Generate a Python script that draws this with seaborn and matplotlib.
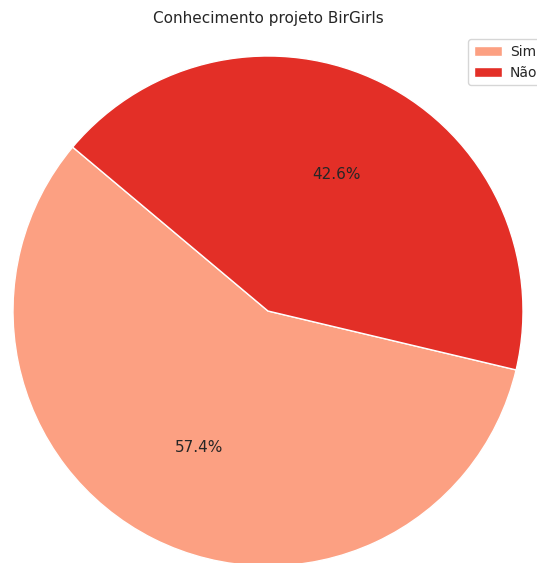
import matplotlib
matplotlib.use("Agg")
import matplotlib.pyplot as plt
import seaborn as sns

labels = ["Sim", "Não"]
values = [57.4, 42.6]
title = "Conhecimento projeto BirGirls"

sns.set_style("white")
colors = sns.color_palette("Reds", 2)

W, H = 537, 563
fig = plt.figure(figsize=(W / 100, H / 100), dpi=100)
ax = fig.add_axes([0, 0, 1, 1])

wedges, texts, autotexts = ax.pie(
    values,
    colors=colors,
    autopct="%1.1f%%",
    startangle=140,
    wedgeprops={"edgecolor": "white", "linewidth": 1},
    textprops={"fontsize": 11, "color": "#262626"},
)

# pie centre and radius in pixels
cx, cy, r = 268, H - 311, 255
ax.set_xlim(-cx / r, (W - cx) / r)
ax.set_ylim(-cy / r, (H - cy) / r)
ax.set_aspect("equal")
ax.axis("off")

fig.text(268 / W, 1 - 19 / H, title, ha="center", va="center",
         fontsize=11, color="#262626")

fig.legend(wedges, labels, loc="upper left",
           bbox_to_anchor=(464 / W, 1 - 35 / H),
           bbox_transform=fig.transFigure, fontsize=10,
           handletextpad=0.6, borderaxespad=0.3, frameon=True)

fig.savefig("out.png", dpi=100)
